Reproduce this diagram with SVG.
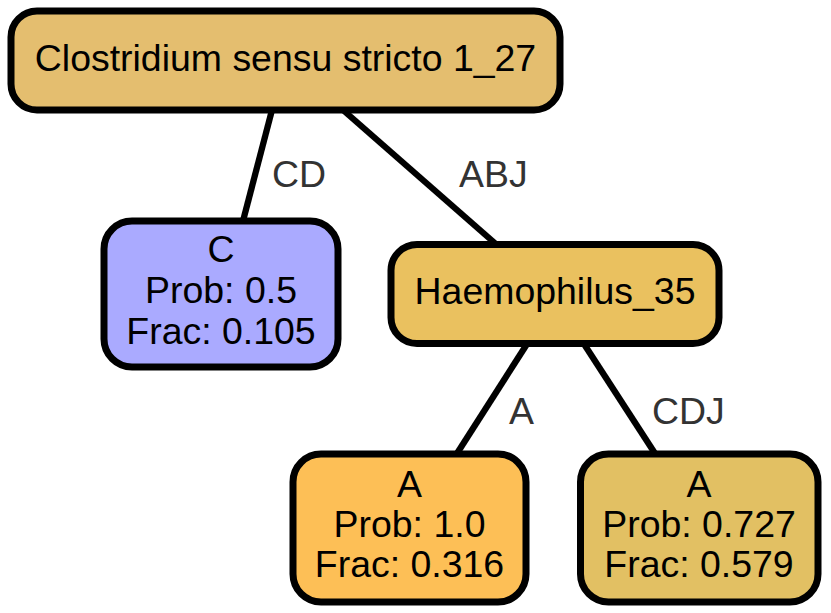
<svg xmlns="http://www.w3.org/2000/svg" width="831" height="613" viewBox="0 0 831 613">
<style>
.node rect{stroke:#000;stroke-width:7}
.node text{font-family:"Liberation Sans",Arial,sans-serif;font-size:36px;fill:#000;text-anchor:middle}
.edges line{stroke:#000;stroke-width:6.3}
.edges text{font-family:"Liberation Sans",Arial,sans-serif;font-size:36px;fill:#333}
</style>
<rect width="831" height="613" fill="#fff"/>
<g class="edges" id="edges">
<line x1="272" y1="110" x2="243" y2="221"/>
<line x1="343" y1="110" x2="497" y2="245"/>
<line x1="527" y1="344" x2="456" y2="455"/>
<line x1="584" y1="344" x2="656" y2="455"/>
<text transform="matrix(1.04 0 0 1 272 0)" x="0" y="187">CD</text>
<text transform="matrix(1.04 0 0 1 459 0)" x="0" y="187">ABJ</text>
<text transform="matrix(1.04 0 0 1 509 0)" x="0" y="424">A</text>
<text transform="matrix(1.04 0 0 1 652 0)" x="0" y="424">CDJ</text>
</g>
<g class="node" id="root">
<rect x="11" y="11" width="549" height="99" rx="26" fill="#E4BE6F"/>
<text transform="matrix(1.04 0 0 1 285.5 0)" x="0" y="71">Clostridium sensu stricto 1_27</text>
</g>
<g class="node" id="leafC">
<rect x="104" y="221" width="234" height="146" rx="28" fill="#AAAAFF"/>
<g transform="matrix(1.04 0 0 1 221 0)">
<text x="0" y="262">C</text>
<text x="0" y="303">Prob: 0.5</text>
<text x="0" y="344">Frac: 0.105</text>
</g>
</g>
<g class="node" id="haem">
<rect x="391" y="244.5" width="328" height="99" rx="26" fill="#EAC15F"/>
<text transform="matrix(1.04 0 0 1 555 0)" x="0" y="304">Haemophilus_35</text>
</g>
<g class="node" id="leafA1">
<rect x="293" y="454" width="233" height="148" rx="28" fill="#FDBF56"/>
<g transform="matrix(1.04 0 0 1 409.5 0)">
<text x="0" y="497">A</text>
<text x="0" y="537">Prob: 1.0</text>
<text x="0" y="577">Frac: 0.316</text>
</g>
</g>
<g class="node" id="leafA2">
<rect x="580.5" y="454" width="237.5" height="148" rx="28" fill="#E2C063"/>
<g transform="matrix(1.04 0 0 1 699 0)">
<text x="0" y="497">A</text>
<text x="0" y="537">Prob: 0.727</text>
<text x="0" y="577">Frac: 0.579</text>
</g>
</g>
</svg>
